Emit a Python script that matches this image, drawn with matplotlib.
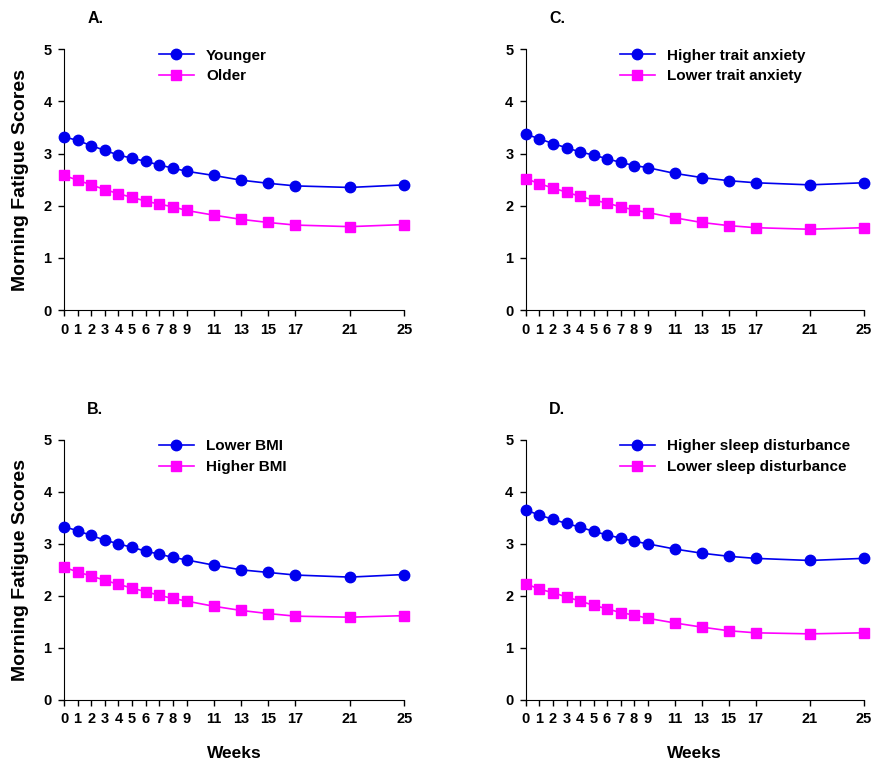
import matplotlib
matplotlib.use("Agg")
import matplotlib.pyplot as plt

plt.rcParams['font.family'] = ['Liberation Sans', 'DejaVu Sans']
plt.rcParams['font.weight'] = 'bold'

weeks = [0, 1, 2, 3, 4, 5, 6, 7, 8, 9, 11, 13, 15, 17, 21, 25]

# A. age
younger = [3.32, 3.25, 3.15, 3.06, 2.97, 2.91, 2.85, 2.78, 2.72, 2.66, 2.58, 2.49, 2.43, 2.38, 2.35, 2.40]
older = [2.58, 2.49, 2.40, 2.31, 2.23, 2.16, 2.09, 2.03, 1.98, 1.91, 1.82, 1.74, 1.68, 1.63, 1.60, 1.64]

# B. BMI
lower_bmi = [3.33, 3.25, 3.16, 3.07, 3.00, 2.93, 2.86, 2.80, 2.74, 2.69, 2.59, 2.50, 2.45, 2.40, 2.36, 2.41]
higher_bmi = [2.55, 2.46, 2.38, 2.30, 2.22, 2.15, 2.08, 2.01, 1.95, 1.90, 1.80, 1.72, 1.66, 1.61, 1.59, 1.62]

# C. trait anxiety
higher_anx = [3.37, 3.28, 3.19, 3.11, 3.03, 2.97, 2.90, 2.83, 2.77, 2.73, 2.62, 2.54, 2.48, 2.44, 2.40, 2.44]
lower_anx = [2.52, 2.42, 2.34, 2.26, 2.18, 2.11, 2.05, 1.98, 1.92, 1.87, 1.77, 1.68, 1.62, 1.58, 1.55, 1.58]

# D. sleep disturbance
higher_sleep = [3.65, 3.55, 3.47, 3.39, 3.32, 3.24, 3.17, 3.11, 3.05, 3.00, 2.90, 2.82, 2.76, 2.72, 2.68, 2.72]
lower_sleep = [2.23, 2.13, 2.06, 1.98, 1.90, 1.82, 1.75, 1.68, 1.63, 1.57, 1.48, 1.40, 1.33, 1.29, 1.27, 1.29]

panels = [
    ("A.", younger, older, "Younger", "Older", [0.0724, 0.595, 0.385, 0.341]),
    ("B.", lower_bmi, higher_bmi, "Lower BMI", "Higher BMI", [0.0724, 0.0862, 0.385, 0.3398]),
    ("C.", higher_anx, lower_anx, "Higher trait anxiety", "Lower trait anxiety", [0.595, 0.595, 0.382, 0.341]),
    ("D.", higher_sleep, lower_sleep, "Higher sleep disturbance", "Lower sleep disturbance", [0.595, 0.0862, 0.382, 0.3398]),
]

fig = plt.figure(figsize=(8.84, 7.66), dpi=100)

for label, s1, s2, n1, n2, rect in panels:
    ax = fig.add_axes(rect)
    ax.plot(weeks, s1, color='#0000ee', marker='o', markersize=7.5, linewidth=1.2,
            label=n1, clip_on=False, zorder=3)
    ax.plot(weeks, s2, color='#ff00ff', marker='s', markersize=6.5, linewidth=1.2,
            label=n2, clip_on=False, zorder=3)
    ax.set_xlim(0, 25)
    ax.set_ylim(0, 5)
    ax.set_xticks(weeks)
    ax.set_xticklabels([str(w) for w in weeks])
    ax.set_yticks([0, 1, 2, 3, 4, 5])
    ax.spines['top'].set_visible(False)
    ax.spines['right'].set_visible(False)
    ax.tick_params(direction='out', length=4, width=1, labelsize=10.5, pad=5)
    for t in ax.get_xticklabels() + ax.get_yticklabels():
        t.set_fontweight('bold')
    ax.legend(loc='upper left', bbox_to_anchor=(0.26, 1.025), frameon=False,
              fontsize=11, handlelength=2.3, labelspacing=0.45, borderaxespad=0)
    ax.text(0.068, 1.1, label, transform=ax.transAxes, fontsize=11.5, fontweight='bold')
    if label in ("A.", "B."):
        ax.set_ylabel("Morning Fatigue Scores", fontsize=14, fontweight='bold', labelpad=10)
    if label in ("B.", "D."):
        ax.set_xlabel("Weeks", fontsize=12.5, fontweight='bold', labelpad=14)

fig.savefig("out.png", dpi=100)
